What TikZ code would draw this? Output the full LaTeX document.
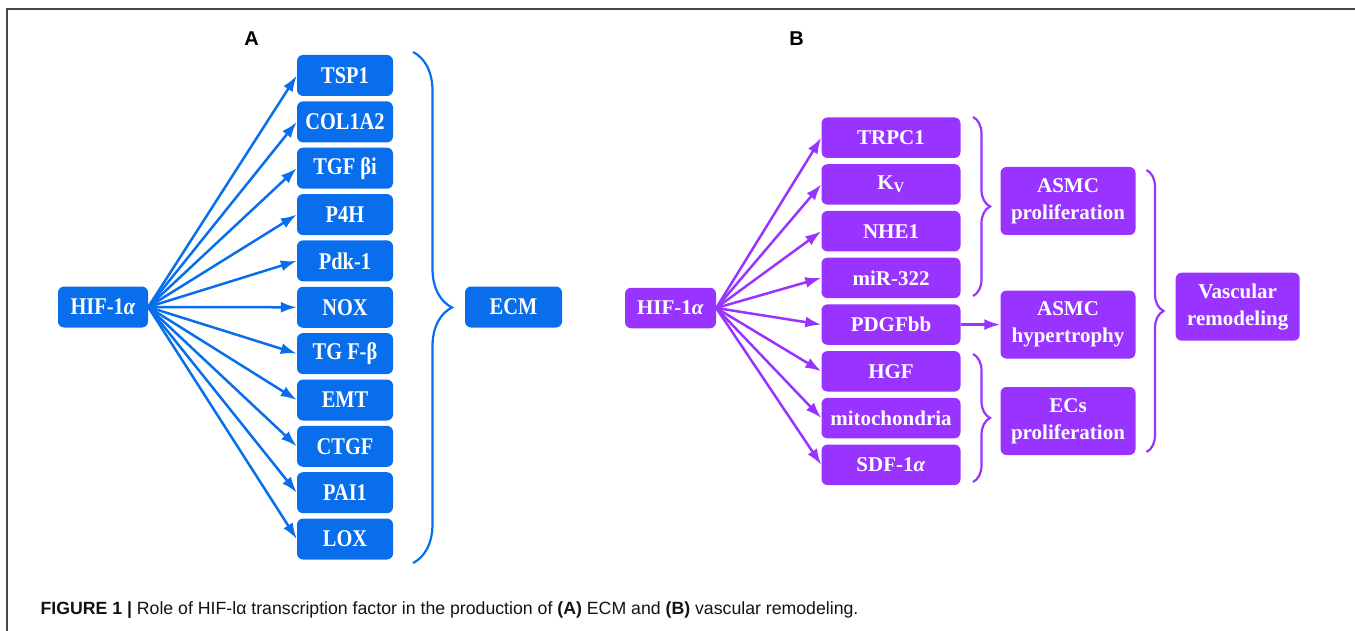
\documentclass[tikz,border=0pt]{standalone}
\usepackage{fontspec}
\setmainfont{Liberation Serif}
\setsansfont{Liberation Sans}
\newfontfamily\narrowserif[FakeStretch=0.85]{Liberation Serif}
\usetikzlibrary{arrows.meta, decorations.pathreplacing}
\definecolor{ecmblue}{RGB}{8,110,236}
\definecolor{vaspurple}{RGB}{153,51,255}
\tikzset{>={Latex[length=16pt, width=11pt]}}
\tikzset{
    boxA/.style={fill=ecmblue, text=white, rounded corners=6pt, inner sep=0pt,
        minimum width=96pt, minimum height=41pt,
        font=\narrowserif\fontsize{24}{26}\selectfont\bfseries},
    boxB/.style={fill=vaspurple, text=white, rounded corners=6pt, inner sep=0pt,
        minimum width=139pt, minimum height=40.5pt, align=center,
        font=\fontsize{21}{27}\selectfont\bfseries},
    arrA/.style={draw=ecmblue, line width=2.5pt, ->},
    arrB/.style={draw=vaspurple, line width=2.5pt, ->},
    brcA/.style={draw=ecmblue, line width=2.2pt, decorate, decoration={brace, amplitude=39pt}},
    brcB/.style={draw=vaspurple, line width=2.2pt, decorate, decoration={brace, amplitude=17pt}},
    panel/.style={font=\sffamily\bfseries\fontsize{20}{20}\selectfont}
}

\begin{document}
\begin{tikzpicture}[x=1pt, y=-1pt]
    \useasboundingbox (0, 0) rectangle (1355, 631);
    \draw[gray!55!black, line width=1.6pt](1355, 9)--(7, 9)--(7, 631);
    % panel A: ECM
    \node[panel](labA)at(251.5, 38.7){A};
    \node[boxA, minimum width=90pt](hifA)at(103, 307){HIF-1\textit{α}};
    \node[boxA](tsp)at(345, 75.5){TSP1};
    \node[boxA](col)at(345, 121.9){COL1A2};
    \node[boxA](tgfi)at(345, 168.2){TGF βi};
    \node[boxA](p4h)at(345, 214.6){P4H};
    \node[boxA](pdk)at(345, 260.9){Pdk-1};
    \node[boxA](nox)at(345, 307.3){NOX};
    \node[boxA](tgfb)at(345, 353.6){TG F-β};
    \node[boxA](emt)at(345, 400){EMT};
    \node[boxA](ctgf)at(345, 446.3){CTGF};
    \node[boxA](pai)at(345, 492.7){PAI1};
    \node[boxA](lox)at(345, 539){LOX};
    \node[boxA, minimum width=97pt](ecm)at(513.5, 307){ECM};
    \foreach \nm in {tsp, col, tgfi, p4h, pdk, nox, tgfb, emt, ctgf, pai, lox}
        \draw[arrA](hifA.east)--(\nm.west);
    \draw[brcA](413, 52)--(413, 563);
    % panel B: vascular remodeling
    \node[panel](labB)at(796.7, 38.5){B};
    \node[boxB, minimum width=91pt](hifB)at(670.5, 308){HIF-1\textit{α}};
    \node[boxB](trpc)at(891, 137.7){TRPC1};
    \node[boxB](kv)at(891, 184.4){K\textsubscript{V}};
    \node[boxB](nhe)at(891, 231.2){NHE1};
    \node[boxB](mir)at(891, 277.9){miR-322};
    \node[boxB](pdgf)at(891, 324.6){PDGFbb};
    \node[boxB](hgf)at(891, 371.3){HGF};
    \node[boxB](mito)at(891, 418.1){mitochondria};
    \node[boxB](sdf)at(891, 464.8){SDF-1\textit{α}};
    \foreach \nm in {trpc, kv, nhe, mir, pdgf, hgf, mito, sdf}
        \draw[arrB](hifB.east)--(\nm.west);
    \node[boxB, minimum width=135pt, minimum height=68pt](prolif)at(1068, 201){ASMC\\proliferation};
    \node[boxB, minimum width=135pt, minimum height=68pt](hyper)at(1068, 324.6){ASMC\\hypertrophy};
    \node[boxB, minimum width=135pt, minimum height=68pt](ecs)at(1068, 421){ECs\\proliferation};
    \node[boxB, minimum width=124pt, minimum height=68pt](vasc)at(1237.7, 306.7){Vascular\\remodeling};
    \draw[arrB](pdgf.east)--(hyper.west);
    \draw[brcB](973, 117)--(973, 296);
    \draw[brcB](973, 354)--(973, 482);
    \draw[brcB](1146.5, 170)--(1146.5, 452);
    % caption
    \node[anchor=base west, text=gray!15!black, font=\sffamily\fontsize{17.7}{20}\selectfont](cap)at(37, 614)
        {\textbf{FIGURE 1 |} Role of HIF-lα transcription factor in the production of \textbf{(A)} ECM and \textbf{(B)} vascular remodeling.};
\end{tikzpicture}
\end{document}
